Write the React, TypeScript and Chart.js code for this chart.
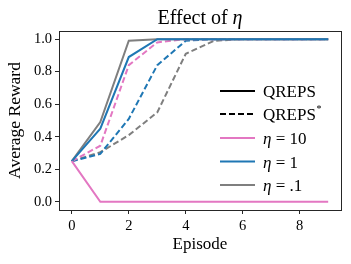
import React, { useEffect, useRef } from "react";
import { Chart, registerables } from "chart.js";

Chart.register(...registerables);

const episodes = [0, 1, 2, 3, 4, 5, 6, 7, 8, 9];
const qrepsEta10 = [0.25, 0, 0, 0, 0, 0, 0, 0, 0, 0];
const qrepsEta1 = [0.25, 0.45, 0.89, 1.0, 1.0, 1.0, 1.0, 1.0, 1.0, 1.0];
const qrepsEta01 = [0.25, 0.49, 0.99, 1.0, 1.0, 1.0, 1.0, 1.0, 1.0, 1.0];
const qrepsStarEta10 = [0.25, 0.345, 0.84, 0.98, 1.0, 1.0, 1.0, 1.0, 1.0, 1.0];
const qrepsStarEta1 = [0.25, 0.295, 0.51, 0.84, 0.99, 1.0, 1.0, 1.0, 1.0, 1.0];
const qrepsStarEta01 = [0.25, 0.305, 0.41, 0.55, 0.91, 0.99, 1.0, 1.0, 1.0, 1.0];
const xTicks = [0, 2, 4, 6, 8];
const yTicks = [0, 0.2, 0.4, 0.6, 0.8, 1.0];

const PINK = "#e377c2";
const BLUE = "#1f77b4";
const GRAY = "#7f7f7f";
const SERIF = "'Liberation Serif', 'DejaVu Serif', serif";
const DASH = [6, 3];

const pts = (arr: number[]) => arr.map((v, i) => ({ x: episodes[i], y: v }));

const decorPlugin = {
  id: "decor",
  afterDraw(chart: any) {
    const ctx = chart.ctx;
    const a = chart.chartArea;
    ctx.save();
    // frame
    ctx.strokeStyle = "#262626";
    ctx.lineWidth = 1;
    ctx.strokeRect(Math.round(a.left) + 0.5, Math.round(a.top) + 0.5, Math.round(a.right - a.left), Math.round(a.bottom - a.top));

    // title
    ctx.fillStyle = "#000";
    ctx.textBaseline = "alphabetic";
    const cx = (a.left + a.right) / 2;
    const t1 = "Effect of ";
    const t2 = "η";
    ctx.font = `20px ${SERIF}`;
    const w1 = ctx.measureText(t1).width;
    ctx.font = `italic 20px ${SERIF}`;
    const w2 = ctx.measureText(t2).width;
    const x0 = cx - (w1 + w2) / 2;
    ctx.font = `20px ${SERIF}`;
    ctx.fillText(t1, x0, 24);
    ctx.font = `italic 20px ${SERIF}`;
    ctx.fillText(t2, x0 + w1, 24);

    // legend
    const items = [
      { color: "#000", dash: [] as number[], parts: [["QREPS", ""]] },
      { color: "#000", dash: DASH, parts: [["QREPS", ""], ["*", "sup"]] },
      { color: PINK, dash: [] as number[], parts: [["η", "i"], [" = 10", ""]] },
      { color: BLUE, dash: [] as number[], parts: [["η", "i"], [" = 1", ""]] },
      { color: GRAY, dash: [] as number[], parts: [["η", "i"], [" = .1", ""]] },
    ];
    const ys = [91, 114, 138, 161.5, 185];
    items.forEach((it, k) => {
      const y = ys[k];
      ctx.beginPath();
      ctx.setLineDash(it.dash);
      ctx.strokeStyle = it.color;
      ctx.lineWidth = 2;
      ctx.moveTo(220, y);
      ctx.lineTo(255, y);
      ctx.stroke();
      ctx.setLineDash([]);
      let tx = 263;
      ctx.fillStyle = "#000";
      ctx.textBaseline = "alphabetic";
      it.parts.forEach(([s, st]) => {
        if (st === "sup") {
          ctx.font = `10px ${SERIF}`;
          ctx.fillText(s, tx + 0.5, y - 2);
          tx += ctx.measureText(s).width + 1;
        } else {
          ctx.font = (st === "i" ? "italic " : "") + `17px ${SERIF}`;
          ctx.fillText(s, tx, y + 6);
          tx += ctx.measureText(s).width;
        }
      });
    });
    ctx.restore();
  },
};

export default function App() {
  const ref = useRef<HTMLCanvasElement>(null);
  useEffect(() => {
    if (!ref.current) return;
    const mk = (label: string, data: number[], color: string, dashed: boolean) => ({
      label,
      data: pts(data),
      borderColor: color,
      backgroundColor: color,
      borderWidth: 2,
      borderDash: dashed ? DASH : [],
      pointRadius: 0,
      tension: 0,
      fill: false,
    });
    const chart = new Chart(ref.current, {
      type: "line",
      data: {
        datasets: [
          mk("QREPS η=10", qrepsEta10, PINK, false),
          mk("QREPS η=1", qrepsEta1, BLUE, false),
          mk("QREPS η=.1", qrepsEta01, GRAY, false),
          mk("QREPS* η=10", qrepsStarEta10, PINK, true),
          mk("QREPS* η=1", qrepsStarEta1, BLUE, true),
          mk("QREPS* η=.1", qrepsStarEta01, GRAY, true),
        ],
      },
      options: {
        animation: false,
        responsive: false,
        maintainAspectRatio: false,
        layout: { padding: { top: 31, right: 10, left: 0, bottom: 0 } },
        plugins: { legend: { display: false }, title: { display: false }, tooltip: { enabled: false } },
        scales: {
          x: {
            type: "linear",
            min: -0.45,
            max: 9.45,
            afterBuildTicks: (s: any) => {
              s.ticks = xTicks.map((v) => ({ value: v }));
            },
            afterFit: (s: any) => {
              s.height = 54;
            },
            grid: { display: true, drawOnChartArea: false, drawTicks: true, tickLength: 4, color: "#262626" },
            border: { display: true, color: "#262626" },
            ticks: { color: "#000", font: { family: SERIF, size: 14.5 }, padding: 3, maxRotation: 0 },
            title: { display: true, text: "Episode", color: "#000", font: { family: SERIF, size: 17 }, padding: { top: 0, bottom: 9 } },
          },
          y: {
            type: "linear",
            min: -0.05,
            max: 1.05,
            afterBuildTicks: (s: any) => {
              s.ticks = yTicks.map((v) => ({ value: v }));
            },
            afterFit: (s: any) => {
              s.width = 59;
            },
            grid: { display: true, drawOnChartArea: false, drawTicks: true, tickLength: 4, color: "#262626" },
            border: { display: true, color: "#262626" },
            ticks: {
              color: "#000",
              font: { family: SERIF, size: 14.5 },
              padding: 3,
              callback: (v: any) => Number(v).toFixed(1),
            },
            title: { display: true, text: "Average Reward", color: "#000", font: { family: SERIF, size: 17.5 }, padding: { top: 5, bottom: 0 } },
          },
        },
      },
      plugins: [decorPlugin],
    } as any);
    return () => chart.destroy();
  }, []);
  return (
    <canvas
      ref={ref}
      width={351}
      height={264}
      style={{ position: "fixed", left: 0, top: 0, width: 351, height: 264, background: "#fff" }}
    />
  );
}
